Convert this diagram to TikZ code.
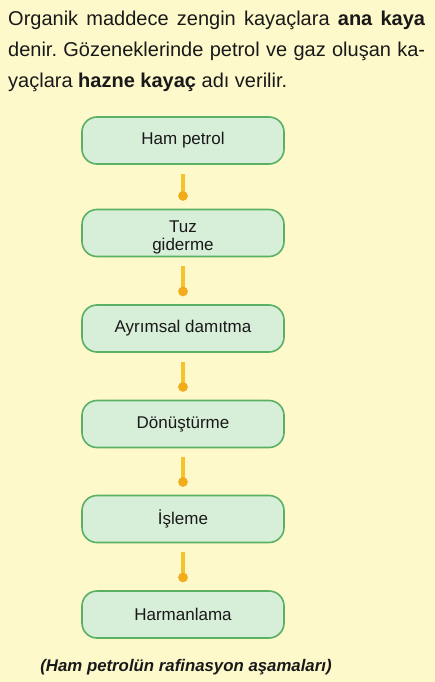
\documentclass[tikz,border=0pt]{standalone}
\usepackage{fontspec}
\setmainfont{Liberation Sans}
\usetikzlibrary{arrows.meta,calc}
\definecolor{bgc}{HTML}{FDF9CB}
\definecolor{boxfill}{HTML}{D7EED8}
\definecolor{boxline}{HTML}{5AB064}
\definecolor{linec}{HTML}{F6C22E}
\definecolor{dotc}{HTML}{F2AC1A}
\frenchspacing
\tikzset{
  stage/.style={draw=boxline, line width=1.6pt, fill=boxfill, rounded corners=15pt,
    minimum width=202pt, minimum height=47pt, inner sep=0pt, align=center,
    font=\fontsize{17}{17}\selectfont, text=black!90},
  conn/.style={draw=linec, line width=3.2pt, -{Circle[length=9.5pt,width=9.5pt,color=dotc,fill=dotc]}}
}
\begin{document}
\begin{tikzpicture}[x=1pt,y=-1pt]
\useasboundingbox (0,0) rectangle (435,682);
\fill[bgc] (0,0) rectangle (435,682);
\node[anchor=north west, inner sep=0pt, align=left, font=\fontsize{20}{31}\selectfont\frenchspacing, text=black!90] (para) at (8,10.5)
  {\makebox[417pt][s]{Organik maddece zengin kayaçlara \textbf{ana kaya}}\\
   \makebox[417pt][s]{denir. Gözeneklerinde petrol ve gaz oluşan ka-}\\
   yaçlara \textbf{hazne kayaç} adı verilir.};
\node[stage] (b1) at (183,140.5) {Ham petrol};
\node[stage] (b2) at (183,233) {\raisebox{-5pt}[\height][\depth]{\begin{tabular}{@{}c@{}}Tuz\\giderme\end{tabular}}};
\node[stage] (b3) at (183,328.5) {Ayrımsal damıtma};
\node[stage] (b4) at (183,424) {Dönüştürme};
\node[stage] (b5) at (183,519) {İşleme};
\node[stage] (b6) at (183,614.5) {Harmanlama};
\foreach \a/\b in {b1/b2,b2/b3,b3/b4,b4/b5,b5/b6}{
  \draw[conn] ($(\a.south)+(0,9)$) -- ($(\b.north)+(0,-8)$);
}
\node[anchor=base, inner sep=0pt, font=\fontsize{16.8}{18}\selectfont\bfseries\itshape, text=black!90] (cap) at (186,671) {(Ham petrolün rafinasyon aşamaları)};
\end{tikzpicture}
\end{document}
